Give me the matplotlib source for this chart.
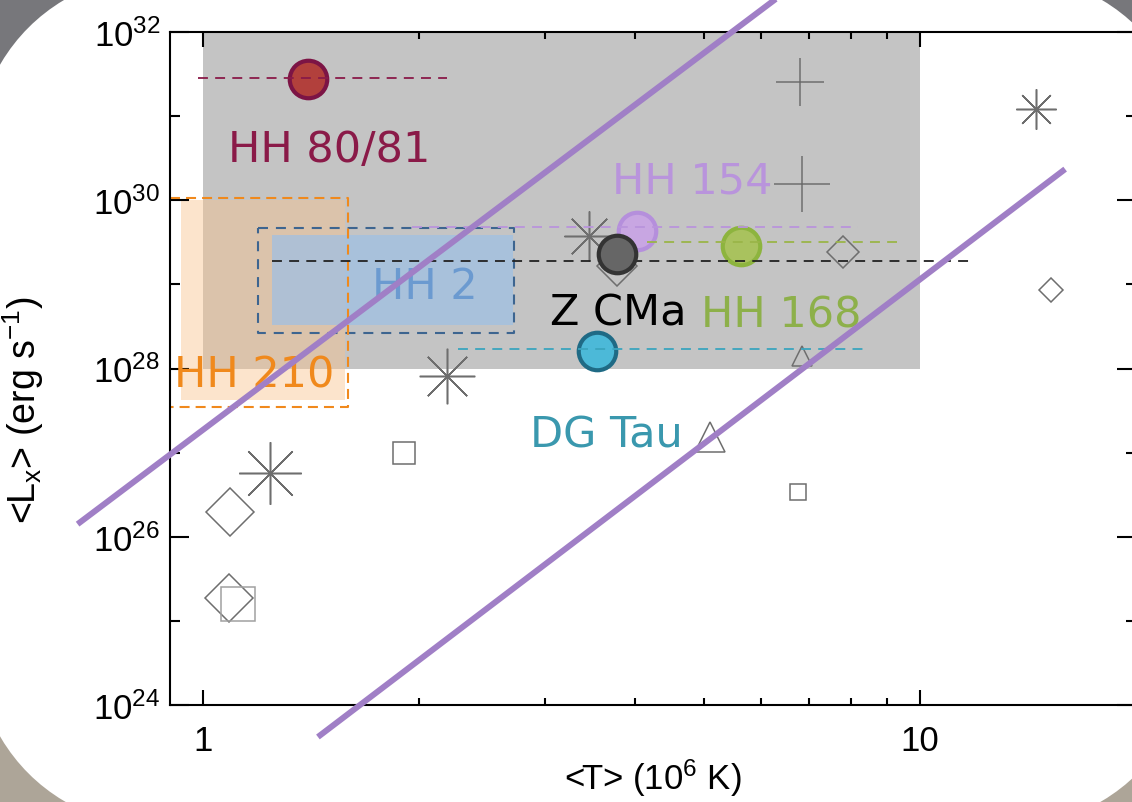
import matplotlib
matplotlib.use("Agg")
import matplotlib.pyplot as plt
import numpy as np
from matplotlib.patches import FancyBboxPatch, Rectangle
from matplotlib.ticker import NullFormatter

plt.rcParams["font.family"] = ["Liberation Sans", "DejaVu Sans"]
plt.rcParams["mathtext.fontset"] = "custom"
plt.rcParams["mathtext.rm"] = "Liberation Sans"
plt.rcParams["mathtext.it"] = "Liberation Sans:italic"

# jets: mean temperature (10^6 K) and log10 <Lx>
jet_names = ["HH 80/81", "HH 154", "HH 168", "DG Tau", "Z CMa"]
jet_T = [1.40, 4.03, 5.63, 3.55, 3.785]
jet_logL = [31.44, 29.64, 29.46, 28.21, 29.36]
jet_face = ["#b2403c", "#c8a6e2", "#a9c25e", "#4cb9d8", "#666666"]
jet_edge = ["#7c1445", "#b58fdc", "#8db43e", "#1f6a85", "#333333"]

# dashed temperature ranges
range_lo = [0.984, 1.96, 4.16, 2.27, 1.25]
range_hi = [2.19, 8.19, 9.30, 8.44, 11.76]
range_logL = [31.45, 29.68, 29.50, 28.23, 29.28]
range_color = ["#8a1a48", "#b994dc", "#9ab548", "#3aa4be", "#222222"]

# text labels
label_text = ["HH 80/81", "HH 154", "HH 168", "DG Tau", "Z CMa", "HH 2", "HH 210"]
label_T = [1.50, 4.81, 6.40, 3.65, 3.79, 2.04, 1.18]
label_logL = [30.61, 30.23, 28.64, 27.22, 28.67, 28.98, 27.93]
label_color = ["#8a1a48", "#b994dc", "#8db04a", "#3a98ae", "#000000", "#6b9ad0", "#f0891c"]

# comparison sources (grey open symbols)
cmp_T = [6.80, 6.84, 14.5, 15.2, 7.82, 3.45, 3.78, 2.19, 6.85, 5.10, 6.75, 1.91, 1.24, 1.09, 1.087, 1.12]
cmp_logL = [31.40, 30.19, 31.08, 28.93, 29.38, 29.57, 29.22, 27.91, 28.15, 27.18, 26.53, 27.00, 26.76, 26.30, 25.27, 25.20]
cmp_marker = ["+", "+", "ast", "D", "D", "ast", "D", "ast", "^", "^", "s", "s", "ast", "D", "D", "s"]
cmp_size = [34, 40, 29, 12, 16, 36, 20, 40, 15, 21, 12, 16, 45, 24, 24, 24]
cmp_color = ["#6e6e6e"] * 15 + ["#a0a0a0"]

# shaded regions
gray_box_T = [1.0, 10.0]
gray_box_logL = [28.0, 32.0]
hh210_fill_T = [0.931, 1.578]
hh210_fill_logL = [27.62, 30.0]
hh210_edge_T = [0.9, 1.595]
hh210_edge_logL = [27.54, 30.03]
hh2_fill_T = [1.247, 2.71]
hh2_fill_logL = [28.52, 29.59]
hh2_edge_T = [1.193, 2.718]
hh2_edge_logL = [28.42, 29.67]

# purple reference lines
line_T = [[0.669, 6.4], [1.447, 15.93]]
line_logL = [[26.15, 32.44], [23.62, 30.37]]

fig = plt.figure(figsize=(11.32, 8.03), dpi=100)
fig.patch.set_facecolor("#77777b")
fig.add_artist(Rectangle((0, 0), 1, 0.5, transform=fig.transFigure,
                         color="#ada598", zorder=-3))
# white rounded slide panel
fig.add_artist(FancyBboxPatch((-0.34, -0.34), 11.32 + 0.34 + 0.68, 8.03 + 0.68,
                              boxstyle="round,pad=0,rounding_size=2.5",
                              transform=fig.dpi_scale_trans,
                              fc="white", ec="none", zorder=-2))

ax = fig.add_axes([170 / 1132, 1 - 706 / 803, (1136 - 170) / 1132, 673 / 803])
ax.set_facecolor("none")
ax.set_xscale("log")
ax.set_yscale("log")
ax.set_xlim(0.9, 20)
ax.set_ylim(1e24, 1e32)


def box(T, logL, **kw):
    ax.fill([T[0], T[1], T[1], T[0]],
            [10 ** logL[0], 10 ** logL[0], 10 ** logL[1], 10 ** logL[1]], **kw)


box(gray_box_T, gray_box_logL, color="#c4c4c4", lw=0, zorder=0.5)
box(hh210_fill_T, hh210_fill_logL, color="#fac28b", alpha=0.44, lw=0, zorder=1)
box(hh2_fill_T, hh2_fill_logL, color="#9ec0e4", alpha=0.72, lw=0, zorder=1.2)

# HH 210 dashed outline (left side is the axis)
ax.plot([hh210_edge_T[0], hh210_edge_T[1], hh210_edge_T[1], hh210_edge_T[0]],
        [10 ** hh210_edge_logL[1], 10 ** hh210_edge_logL[1],
         10 ** hh210_edge_logL[0], 10 ** hh210_edge_logL[0]],
        color="#f0891c", lw=1.5, dashes=(4.8, 2.9), zorder=2, clip_on=False)
# HH 2 dashed outline
ax.plot([hh2_edge_T[0], hh2_edge_T[1], hh2_edge_T[1], hh2_edge_T[0], hh2_edge_T[0]],
        [10 ** hh2_edge_logL[1], 10 ** hh2_edge_logL[1], 10 ** hh2_edge_logL[0],
         10 ** hh2_edge_logL[0], 10 ** hh2_edge_logL[1]],
        color="#3d6590", lw=1.5, dashes=(4.8, 3.8), zorder=1.8)

# comparison sample
for T, lL, m, s, c in zip(cmp_T, cmp_logL, cmp_marker, cmp_size, cmp_color):
    mk = (8, 2, 0) if m == "ast" else m
    ax.plot(T, 10 ** lL, marker=mk, ms=s, mfc="none", mec=c, mew=1.1,
            ls="none", zorder=3)

# jets with dashed ranges
for i in range(len(jet_names)):
    top = jet_names[i] == "Z CMa"
    ax.plot(jet_T[i], 10 ** jet_logL[i], "o", ms=27, mfc=jet_face[i],
            mec=jet_edge[i], mew=3, zorder=6 if top else 4)
    ax.plot([range_lo[i], range_hi[i]], [10 ** range_logL[i]] * 2,
            color=range_color[i], lw=1.3, dashes=(5.5, 4.0), zorder=5)

for t, T, lL, c in zip(label_text, label_T, label_logL, label_color):
    ax.text(T, 10 ** lL, t, color=c, fontsize=31, ha="center", va="center",
            family="DejaVu Sans", zorder=7)

for T, lL in zip(line_T, line_logL):
    ax.plot(T, 10 ** np.array(lL), color="#a07fc6", lw=4.3,
            solid_capstyle="butt", zorder=8, clip_on=False)

# axes decoration
ax.set_xticks([1, 10], ["1", "10"])
ax.set_xticks([2, 3, 4, 5, 6, 7, 8, 9], minor=True)
ax.xaxis.set_minor_formatter(NullFormatter())
ax.set_yticks([1e24, 1e26, 1e28, 1e30, 1e32],
              ["$10^{24}$", "$10^{26}$", "$10^{28}$", "$10^{30}$", "$10^{32}$"])
ax.set_yticks([1e25, 1e27, 1e29, 1e31], minor=True)
ax.yaxis.set_minor_formatter(NullFormatter())
ax.tick_params(which="both", direction="in", top=True, right=True, width=1.5)
ax.tick_params(axis="x", which="major", length=11, labelsize=25, pad=14)
ax.tick_params(axis="x", which="minor", length=5)
ax.tick_params(axis="y", which="major", length=14, labelsize=25, pad=7)
ax.tick_params(axis="y", which="minor", length=7)
for sp in ax.spines.values():
    sp.set_linewidth(1.5)

ax.set_xlabel("<T> (10$^6$ K)", fontsize=25)
ax.xaxis.set_label_coords(0.5, -0.077)
ax.set_ylabel("<L$_{\\rm x}$> (erg s$^{-1}$)", fontsize=27)
ax.yaxis.set_label_coords(-0.128, 0.44)

fig.savefig("out.png", dpi=100, facecolor=fig.get_facecolor())
